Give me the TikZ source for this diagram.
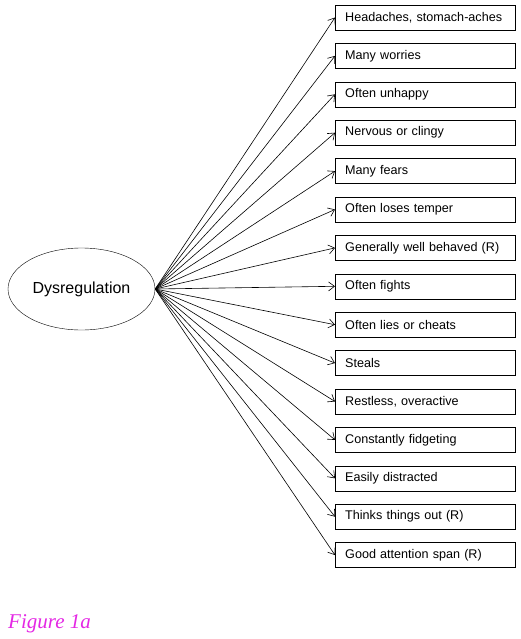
\documentclass[tikz,border=0pt]{standalone}
\usepackage{fontspec}
\setmainfont{Liberation Sans}
\newfontfamily\capfont{Liberation Serif}
\definecolor{figpink}{RGB}{228,40,228}
\tikzset{
    EL/.style ={ellipse,minimum width = 147pt, minimum height = 82pt, draw, inner sep=0pt, font=\fontsize{16}{18}\selectfont},
    BX/.style ={rectangle,minimum height = 25pt, text width = 160pt, inner xsep=10pt, align=left, draw, anchor=west, font=\fontsize{12.6}{14}\selectfont},
    AR/.style ={-{Straight Barb[length=6pt,width=9pt]}, line width=0.6pt}}
\usetikzlibrary{shapes.geometric,arrows.meta}
\begin{document}
\begin{tikzpicture}[x=1pt,y=-1pt]
    \useasboundingbox (0,0) rectangle (521,639);
        \node[EL] (D) at(81.5,289){Dysregulation};
        \node[BX] (B1) at(335,17.5){Headaches, stomach-aches};
        \node[BX] (B2) at(335,55.9){Many worries};
        \node[BX] (B3) at(335,94.3){Often unhappy};
        \node[BX] (B4) at(335,132.7){Nervous or clingy};
        \node[BX] (B5) at(335,171.1){Many fears};
        \node[BX] (B6) at(335,209.5){Often loses temper};
        \node[BX] (B7) at(335,247.9){Generally well behaved (R)};
        \node[BX] (B8) at(335,286.3){Often fights};
        \node[BX] (B9) at(335,324.7){Often lies or cheats};
        \node[BX] (B10) at(335,363.1){Steals};
        \node[BX] (B11) at(335,401.5){Restless, overactive};
        \node[BX] (B12) at(335,439.9){Constantly fidgeting};
        \node[BX] (B13) at(335,478.3){Easily distracted};
        \node[BX] (B14) at(335,516.7){Thinks things out (R)};
        \node[BX] (B15) at(335,555.1){Good attention span (R)};
        \draw[AR] (D.east) -- (B1.west);
        \draw[AR] (D.east) -- (B2.west);
        \draw[AR] (D.east) -- (B3.west);
        \draw[AR] (D.east) -- (B4.west);
        \draw[AR] (D.east) -- (B5.west);
        \draw[AR] (D.east) -- (B6.west);
        \draw[AR] (D.east) -- (B7.west);
        \draw[AR] (D.east) -- (B8.west);
        \draw[AR] (D.east) -- (B9.west);
        \draw[AR] (D.east) -- (B10.west);
        \draw[AR] (D.east) -- (B11.west);
        \draw[AR] (D.east) -- (B12.west);
        \draw[AR] (D.east) -- (B13.west);
        \draw[AR] (D.east) -- (B14.west);
        \draw[AR] (D.east) -- (B15.west);
        \node[anchor=base west, inner sep=0pt, text=figpink, font=\capfont\itshape\fontsize{21}{24}\selectfont] (F) at(8,628){Figure 1a};
    \end{tikzpicture}
\end{document}
